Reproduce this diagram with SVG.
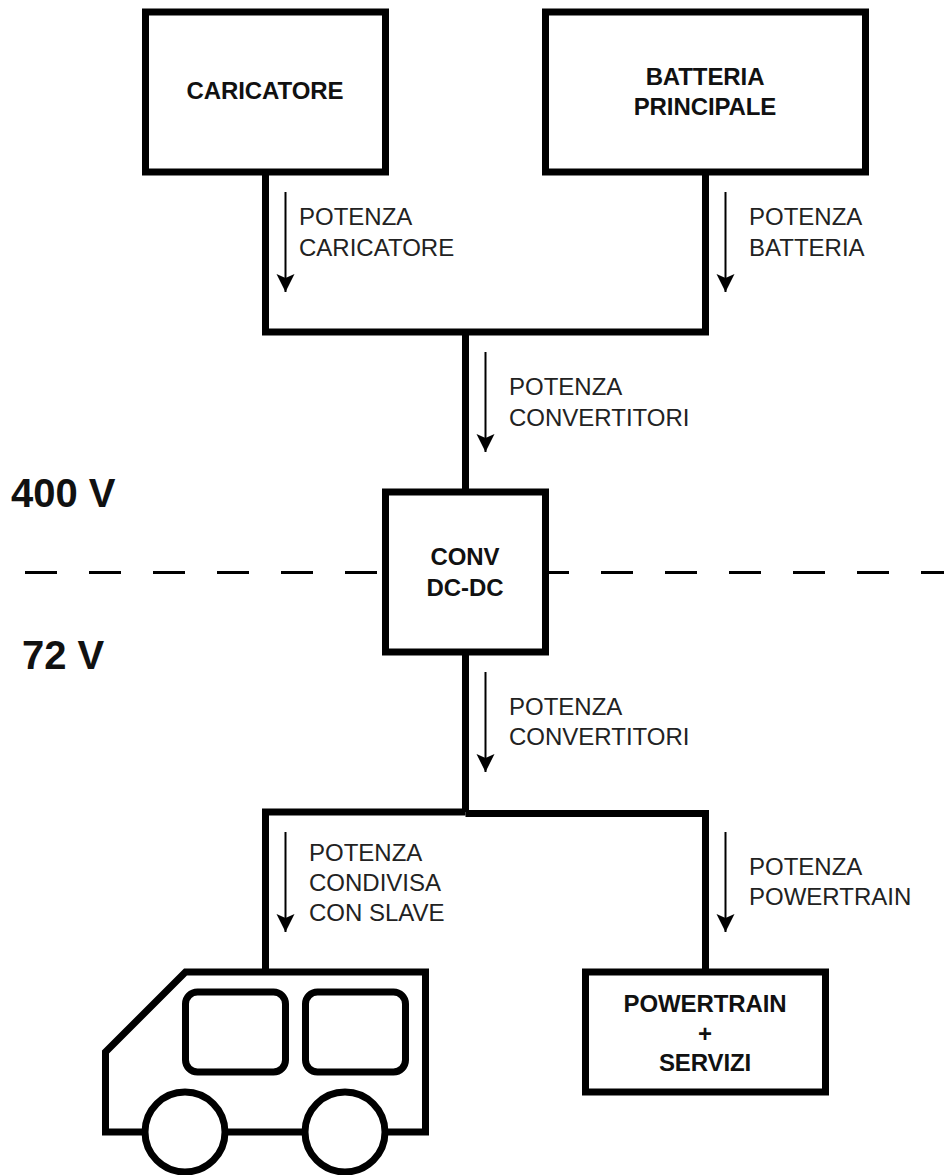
<svg xmlns="http://www.w3.org/2000/svg" width="944" height="1175" viewBox="0 0 944 1175">
<style>
text{font-family:"Liberation Sans",Arial,sans-serif;fill:#111}
.b{font-weight:bold;font-size:24px;letter-spacing:-.1px;text-anchor:middle}
.l{font-size:24px;fill:#222}
.v{font-weight:bold;font-size:40px}
.s{fill:none;stroke:#000;stroke-width:7;stroke-miterlimit:10}
.box{fill:#fff;stroke:#000;stroke-width:7}
.a{stroke:#000;stroke-width:2;fill:none;marker-end:url(#arr)}
</style>
<defs><marker id="arr" markerUnits="userSpaceOnUse" markerWidth="20" markerHeight="20" refX="18" refY="10" orient="auto"><path d="M0 1 L18 10 L0 19 L4 10Z" fill="#000"/></marker></defs>
<rect width="944" height="1175" fill="#fff"/>
<g id="connectors">
<path class="s" d="M265.500 172V332H705.500V172M465.500 332V492M465.500 652V812M265.500 972V812H465.500"/>
<path class="s" d="M465.500 813.500H705.500V972"/>
<path d="M25 572.500H944" fill="none" stroke="#000" stroke-width="3" stroke-dasharray="32 32"/>
<path class="a" d="M285.500 192V292"/>
<path class="a" d="M725.500 192V292"/>
<path class="a" d="M485.500 352V452"/>
<path class="a" d="M485.500 672V772"/>
<path class="a" d="M285.500 832V932"/>
<path class="a" d="M725.500 832V932"/>
</g>
<g id="caricatore"><rect class="box" x="145.500" y="12" width="240" height="160"/><text class="b" x="265" y="99">CARICATORE</text></g>
<g id="batteria"><rect class="box" x="545.500" y="12" width="320" height="160"/><text class="b" x="705" y="85">BATTERIA</text><text class="b" x="705" y="115">PRINCIPALE</text></g>
<g id="conv"><rect class="box" x="385.500" y="492" width="160" height="160"/><text class="b" x="465" y="565">CONV</text><text class="b" x="465" y="596">DC-DC</text></g>
<g id="powertrain"><rect class="box" x="585.500" y="972" width="240" height="120"/><text class="b" x="705" y="1012">POWERTRAIN</text><text class="b" x="705" y="1042">+</text><text class="b" x="705" y="1071">SERVIZI</text></g>
<g id="van">
<path class="box" d="M185.500 972H425.500V1132H105.500V1052Z"/>
<rect class="s" x="185.500" y="992" width="100" height="80" rx="12"/>
<rect class="s" x="305.500" y="992" width="100" height="80" rx="12"/>
<circle class="box" cx="185" cy="1132" r="40"/>
<circle class="box" cx="345" cy="1132" r="40"/>
</g>
<g id="labels">
<text class="l" x="299" y="225">POTENZA</text><text class="l" x="299" y="256">CARICATORE</text>
<text class="l" x="749" y="225">POTENZA</text><text class="l" x="749" y="256">BATTERIA</text>
<text class="l" x="509" y="395">POTENZA</text><text class="l" x="509" y="426">CONVERTITORI</text>
<text class="l" x="509" y="715">POTENZA</text><text class="l" x="509" y="745">CONVERTITORI</text>
<text class="l" x="309" y="861">POTENZA</text><text class="l" x="309" y="891">CONDIVISA</text><text class="l" x="309" y="921">CON SLAVE</text>
<text class="l" x="749" y="875">POTENZA</text><text class="l" x="749" y="905">POWERTRAIN</text>
<text class="v" x="11" y="507">400 V</text><text class="v" x="22" y="669">72 V</text>
</g>
</svg>
